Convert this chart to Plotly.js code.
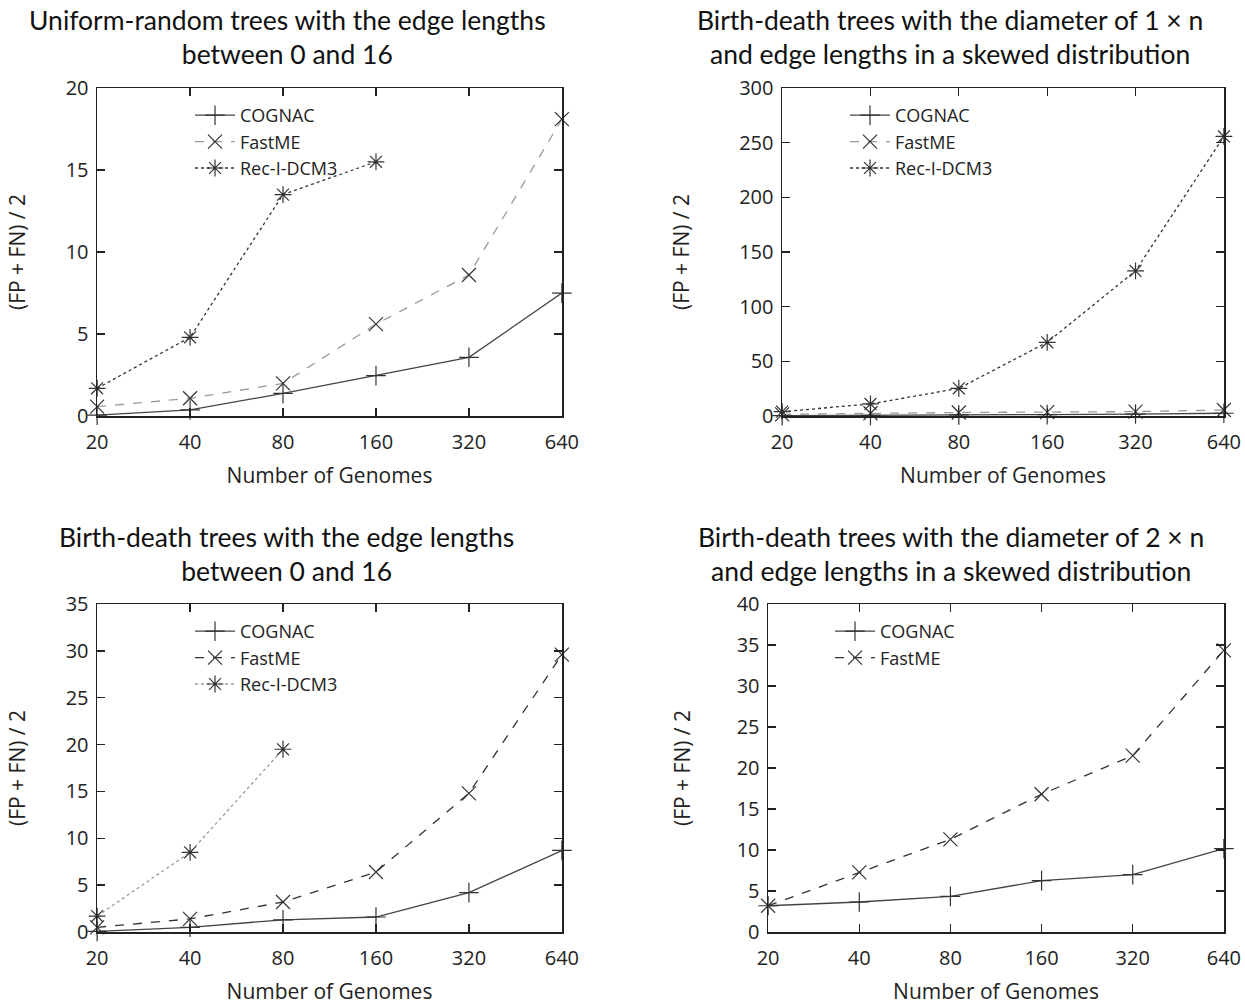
<!DOCTYPE html>
<html>
<head>
<meta charset="utf-8">
<script src="https://cdn.plot.ly/plotly-3.0.1.min.js"></script>
<style>html,body{margin:0;padding:0;background:#fff}#chart{width:1245px;height:1007px}</style>
</head>
<body>
<div id="chart"></div>
<script>
// ---- data ----
const genomes = [20, 40, 80, 160, 320, 640];
const tickLabels = ["20", "40", "80", "160", "320", "640"];

const titles = [
  "Uniform-random trees with the edge lengths<br>between 0 and 16",
  "Birth-death trees with the diameter of 1 × n<br>and edge lengths in a skewed distribution",
  "Birth-death trees with the edge lengths<br>between 0 and 16",
  "Birth-death trees with the diameter of 2 × n<br>and edge lengths in a skewed distribution"
];

// Panel 1: uniform-random, edge lengths 0..16
const p1_cognac = [0.05, 0.37, 1.38, 2.46, 3.58, 7.49];
const p1_fastme = [0.57, 1.08, 1.99, 5.6, 8.6, 18.1];
const p1_rec    = [1.69, 4.8, 13.5, 15.5];

// Panel 2: birth-death, diameter 1 x n
const p2_cognac = [0.3, 0.5, 1.0, 1.3, 1.8, 2.5];
const p2_fastme = [1.5, 2.5, 3.2, 3.6, 4.0, 5.5];
const p2_rec    = [4, 11, 25.3, 67.4, 132.7, 255.7];

// Panel 3: birth-death, edge lengths 0..16
const p3_cognac = [0.07, 0.5, 1.3, 1.6, 4.2, 8.7];
const p3_fastme = [0.5, 1.4, 3.2, 6.4, 14.8, 29.6];
const p3_rec    = [1.7, 8.5, 19.5];

// Panel 4: birth-death, diameter 2 x n
const p4_cognac = [3.2, 3.66, 4.35, 6.26, 7.0, 10.16];
const p4_fastme = [3.2, 7.28, 11.3, 16.8, 21.5, 34.35];

const yRanges = [[0, 20], [0, 300], [0, 35], [0, 40]];
const yDtick = [5, 50, 5, 5];

// ---- styling ----
const FONT = "Open Sans, Noto Sans, sans-serif";
const TITLEFONT = "Lato, Noto Sans, sans-serif";
const markerDark = "#333";

function series(name, x, y, idx, dash, lineColor, symbol, legendId) {
  const ax = idx === 1 ? "" : String(idx);
  return {
    type: "scatter", mode: "lines+markers", name: name,
    x: x, y: y, xaxis: "x" + ax, yaxis: "y" + ax,
    legend: legendId,
    line: {color: lineColor, width: 1.3, dash: dash},
    marker: {symbol: symbol, size: 14, color: markerDark, line: {color: markerDark, width: 1.2}},
    cliponaxis: false
  };
}

const traces = [
  series("COGNAC", genomes, p1_cognac, 1, "solid", "#444", "cross-thin", "legend"),
  series("FastME", genomes, p1_fastme, 1, "dash", "#999", "x-thin", "legend"),
  series("Rec-I-DCM3", genomes.slice(0, p1_rec.length), p1_rec, 1, "dot", "#333", "asterisk", "legend"),

  series("COGNAC", genomes, p2_cognac, 2, "solid", "#444", "cross-thin", "legend2"),
  series("FastME", genomes, p2_fastme, 2, "dash", "#999", "x-thin", "legend2"),
  series("Rec-I-DCM3", genomes, p2_rec, 2, "dot", "#333", "asterisk", "legend2"),

  series("COGNAC", genomes, p3_cognac, 3, "solid", "#444", "cross-thin", "legend3"),
  series("FastME", genomes, p3_fastme, 3, "dash", "#333", "x-thin", "legend3"),
  series("Rec-I-DCM3", genomes.slice(0, p3_rec.length), p3_rec, 3, "dot", "#999", "asterisk", "legend3"),

  series("COGNAC", genomes, p4_cognac, 4, "solid", "#444", "cross-thin", "legend4"),
  series("FastME", genomes, p4_fastme, 4, "dash", "#333", "x-thin", "legend4")
];

const W = 1245, H = 1007;
const boxes = [ // left, right, top, bottom in px
  [97, 562, 88, 416],
  [782, 1224, 88, 416],
  [97, 562, 604, 932],
  [768, 1224, 604, 932]
];
const yTitleStandoff = [34, 44, 34, 40];
const titleCenters = [287, 950, 286, 951];

function xAxis(i) {
  const b = boxes[i];
  const lo = Math.log10(genomes[0]), hi = Math.log10(genomes[genomes.length - 1]);
  return {
    domain: [b[0] / W, b[1] / W],
    type: "log",
    range: [lo - 0.0004, hi + 0.0004],
    tickvals: genomes, ticktext: tickLabels,
    ticks: "inside", ticklen: 8, tickwidth: 1.3, tickcolor: "#222",
    ticklabelstandoff: 7,
    showline: true, linecolor: "#222", linewidth: 1.5, mirror: "ticks",
    showgrid: false, zeroline: false,
    tickfont: {family: FONT, size: 20, color: "#222"},
    title: {text: "Number of Genomes", font: {family: FONT, size: 21, color: "#222"}, standoff: 15},
    anchor: i === 0 ? "y" : "y" + (i + 1),
    automargin: false
  };
}
function yAxis(i) {
  const b = boxes[i];
  return {
    domain: [1 - b[3] / H, 1 - b[2] / H],
    range: yRanges[i], dtick: yDtick[i], tick0: 0,
    ticks: "inside", ticklen: 8, tickwidth: 1.3, tickcolor: "#222",
    ticklabelstandoff: 3,
    showline: true, linecolor: "#222", linewidth: 1.5, mirror: "ticks",
    showgrid: false, zeroline: false,
    tickfont: {family: FONT, size: 20, color: "#222"},
    title: {text: "(FP + FN) / 2", font: {family: FONT, size: 21, color: "#222"}, standoff: yTitleStandoff[i]},
    anchor: i === 0 ? "x" : "x" + (i + 1),
    automargin: false
  };
}

function legend(xpx, ypx) {
  return {
    x: xpx / W, y: 1 - ypx / H, xanchor: "left", yanchor: "top",
    bgcolor: "rgba(0,0,0,0)", borderwidth: 0,
    font: {family: FONT, size: 18, color: "#222"},
    tracegroupgap: 0, itemwidth: 40
  };
}

const annotations = titles.map((t, i) => ({
  text: t, showarrow: false,
  xref: "paper", x: titleCenters[i] / W, xanchor: "center",
  yref: "paper", y: 1 - (i < 2 ? 37 : 554) / H, yanchor: "middle",
  font: {family: TITLEFONT, size: 26.5, color: "#111"}
}));

const layout = {
  width: W, height: H,
  margin: {l: 0, r: 0, t: 0, b: 0},
  paper_bgcolor: "#fff", plot_bgcolor: "#fff",
  showlegend: true,
  xaxis: xAxis(0), yaxis: yAxis(0),
  xaxis2: xAxis(1), yaxis2: yAxis(1),
  xaxis3: xAxis(2), yaxis3: yAxis(2),
  xaxis4: xAxis(3), yaxis4: yAxis(3),
  legend: legend(190, 97),
  legend2: legend(845, 97),
  legend3: legend(190, 613),
  legend4: legend(830, 613),
  annotations: annotations
};

Plotly.newPlot("chart", traces, layout, {displayModeBar: false, staticPlot: true});
</script>
</body>
</html>
